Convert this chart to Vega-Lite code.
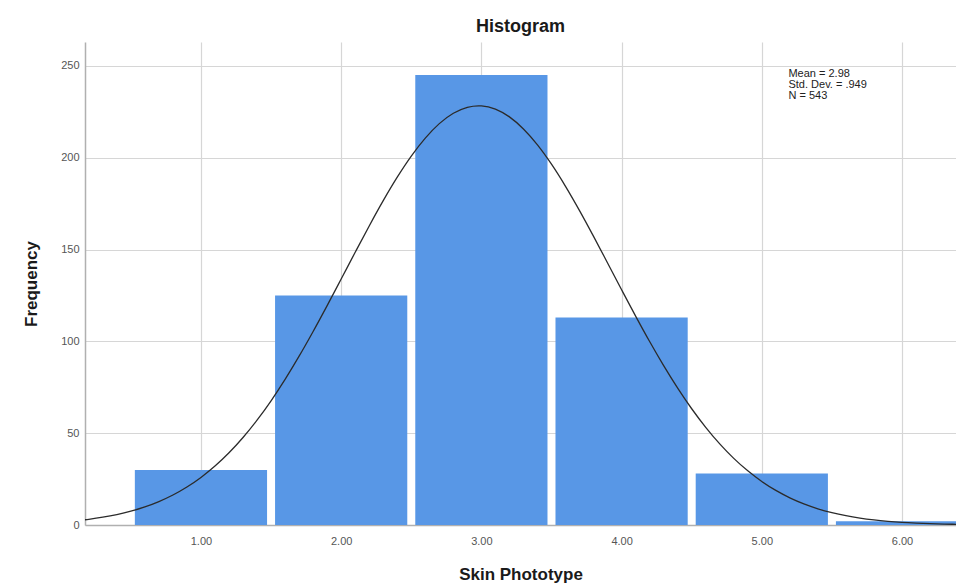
{
  "$schema": "https://vega.github.io/schema/vega-lite/v6.json",
  "width": 871,
  "height": 483,
  "autosize": {"type": "none"},
  "padding": {"left": 85, "top": 42, "right": 0, "bottom": 60},
  "background": "white",
  "title": {"text": "Histogram", "font": "Liberation Sans", "fontSize": 18, "fontWeight": "bold", "color": "#1a1a1a", "offset": 6, "anchor": "middle"},
  "config": {
    "view": {"stroke": null},
    "axis": {"labelFont": "Liberation Sans", "titleFont": "Liberation Sans", "labelColor": "#555555", "labelFontSize": 11, "titleFontSize": 17, "titleFontWeight": "bold", "titleColor": "#1a1a1a", "gridColor": "#d6d6d6", "gridWidth": 1.2, "domainColor": "#b0b0b0", "domainWidth": 1.5, "tickSize": 0}
  },
  "datasets": {
    "bars": [
      {"bin_start": 0.5, "bin_end": 1.5, "count": 30},
      {"bin_start": 1.5, "bin_end": 2.5, "count": 125},
      {"bin_start": 2.5, "bin_end": 3.5, "count": 245},
      {"bin_start": 3.5, "bin_end": 4.5, "count": 113},
      {"bin_start": 4.5, "bin_end": 5.5, "count": 28},
      {"bin_start": 5.5, "bin_end": 6.5, "count": 2}
    ],
    "curve": [
      {"x": 0.1, "f": 2.28}, {"x": 0.2, "f": 3.12}, {"x": 0.3, "f": 4.23}, {"x": 0.4, "f": 5.67},
      {"x": 0.5, "f": 7.51}, {"x": 0.6, "f": 9.83}, {"x": 0.7, "f": 12.74}, {"x": 0.8, "f": 16.31},
      {"x": 0.9, "f": 20.67}, {"x": 1.0, "f": 25.89}, {"x": 1.1, "f": 32.07}, {"x": 1.2, "f": 39.31},
      {"x": 1.3, "f": 47.63}, {"x": 1.4, "f": 57.09}, {"x": 1.5, "f": 67.65}, {"x": 1.6, "f": 79.30},
      {"x": 1.7, "f": 91.92}, {"x": 1.8, "f": 105.38}, {"x": 1.9, "f": 119.46}, {"x": 2.0, "f": 133.93},
      {"x": 2.1, "f": 148.51}, {"x": 2.2, "f": 162.84}, {"x": 2.3, "f": 176.60}, {"x": 2.4, "f": 189.38},
      {"x": 2.5, "f": 200.86}, {"x": 2.6, "f": 210.68}, {"x": 2.7, "f": 218.55}, {"x": 2.8, "f": 224.20},
      {"x": 2.9, "f": 227.46}, {"x": 2.98, "f": 228.27}, {"x": 3.0, "f": 228.22}, {"x": 3.1, "f": 226.45},
      {"x": 3.2, "f": 222.22}, {"x": 3.3, "f": 215.66}, {"x": 3.4, "f": 206.97}, {"x": 3.5, "f": 196.45},
      {"x": 3.6, "f": 184.40}, {"x": 3.7, "f": 171.18}, {"x": 3.8, "f": 157.16}, {"x": 3.9, "f": 142.68},
      {"x": 4.0, "f": 128.11}, {"x": 4.1, "f": 113.76}, {"x": 4.2, "f": 99.90}, {"x": 4.3, "f": 86.77},
      {"x": 4.4, "f": 74.53}, {"x": 4.5, "f": 63.30}, {"x": 4.6, "f": 53.18}, {"x": 4.7, "f": 44.17},
      {"x": 4.8, "f": 36.29}, {"x": 4.9, "f": 29.48}, {"x": 5.0, "f": 23.69}, {"x": 5.1, "f": 18.83},
      {"x": 5.2, "f": 14.80}, {"x": 5.3, "f": 11.50}, {"x": 5.4, "f": 8.84}, {"x": 5.5, "f": 6.72},
      {"x": 5.6, "f": 5.05}, {"x": 5.7, "f": 3.75}, {"x": 5.8, "f": 2.76}, {"x": 5.9, "f": 2.01},
      {"x": 6.0, "f": 1.44}, {"x": 6.1, "f": 1.03}, {"x": 6.2, "f": 0.72}, {"x": 6.3, "f": 0.50},
      {"x": 6.4, "f": 0.35}
    ],
    "stats": [
      {"x": 5.19, "y": 249, "label": ["Mean = 2.98", "Std. Dev. = .949", "N = 543"]}
    ]
  },
  "layer": [
    {
      "data": {"name": "bars"},
      "mark": {"type": "bar", "color": "#5897e6", "xOffset": 4, "x2Offset": -4, "clip": true},
      "encoding": {
        "x": {"field": "bin_start", "type": "quantitative",
              "scale": {"domain": [0.173, 6.385], "nice": false, "zero": false},
              "axis": {"values": [1, 2, 3, 4, 5, 6], "format": ".2f", "title": "Skin Phototype", "labelPadding": 10, "titlePadding": 20, "grid": true}},
        "x2": {"field": "bin_end"},
        "y": {"field": "count", "type": "quantitative",
              "scale": {"domain": [0, 263], "nice": false},
              "axis": {"values": [0, 50, 100, 150, 200, 250], "title": "Frequency", "labelPadding": 6, "titlePadding": 20, "grid": true}},
        "y2": {"datum": 0}
      }
    },
    {
      "data": {"name": "curve"},
      "mark": {"type": "line", "color": "#2b2b2b", "strokeWidth": 1.3, "clip": true, "interpolate": "monotone"},
      "encoding": {
        "x": {"field": "x", "type": "quantitative"},
        "y": {"field": "f", "type": "quantitative"}
      }
    },
    {
      "data": {"name": "stats"},
      "mark": {"type": "text", "align": "left", "baseline": "top", "font": "Liberation Sans", "fontSize": 11, "lineHeight": 11, "color": "#222222"},
      "encoding": {
        "x": {"field": "x", "type": "quantitative"},
        "y": {"field": "y", "type": "quantitative"},
        "text": {"field": "label"}
      }
    }
  ]
}
